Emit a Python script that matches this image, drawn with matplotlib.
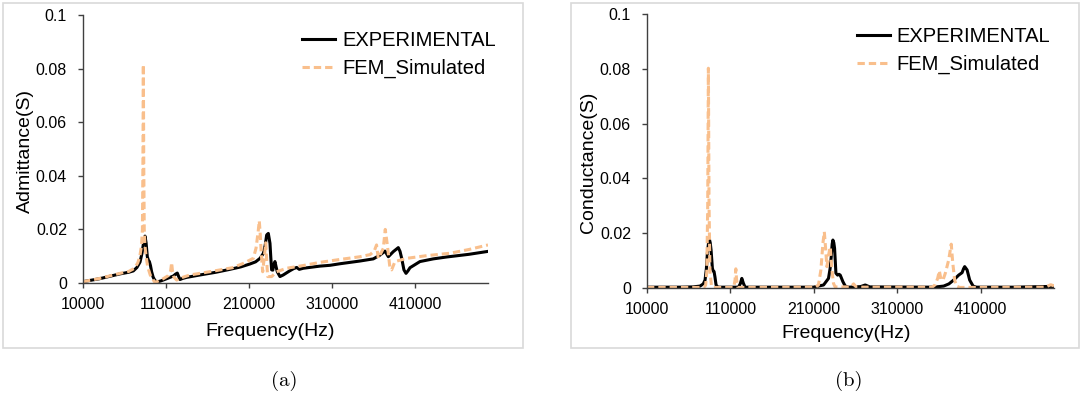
import numpy as np
import matplotlib
matplotlib.use('Agg')
import matplotlib.pyplot as plt
from matplotlib.patches import Rectangle

# (a) admittance, frequency in Hz
adm_exp_f = [10000, 30000, 54600, 65000, 70600, 75000, 78700, 81000, 83000, 84700, 86000, 87500,
             88800, 90000, 91300, 92700, 94500, 96700, 99500, 104000, 110800, 118800, 121500, 123600,
             125300, 126900, 130000, 134900, 151000, 170000, 187100, 200000, 211200, 218000, 223300,
             227200, 229500, 231300, 233300, 235300, 236300, 237300, 238700, 240000, 241300, 242700,
             244100, 247300, 251300, 259400, 264000, 267500, 270600, 275400, 295500, 307600, 320000,
             343700, 359800, 367800, 373900, 377900, 383900, 389900, 392000, 394000, 396700, 399200,
             401500, 404000, 416000, 432000, 448000, 475000, 498000]
adm_exp_y = [0.0005, 0.0016, 0.0034, 0.0040, 0.0045, 0.0058, 0.0078, 0.0110, 0.0150, 0.0175, 0.0150, 0.0098,
             0.0085, 0.0080, 0.0065, 0.0042, 0.0022, 0.0009, 0.0004, 0.0008, 0.0016, 0.0026, 0.0033, 0.0037,
             0.0024, 0.0013, 0.0017, 0.0021, 0.0030, 0.0040, 0.0051, 0.0060, 0.0071, 0.0079, 0.0092,
             0.0110, 0.0140, 0.0179, 0.0185, 0.0148, 0.0095, 0.0049, 0.0048, 0.0070, 0.0080, 0.0060,
             0.0042, 0.0024, 0.0030, 0.0046, 0.0054, 0.0058, 0.0051, 0.0055, 0.0063, 0.0066, 0.0072,
             0.0082, 0.0090, 0.0104, 0.0119, 0.0098, 0.0117, 0.0132, 0.0118, 0.0092, 0.0049, 0.0036,
             0.0045, 0.0057, 0.0080, 0.0090, 0.0097, 0.0107, 0.0118]

adm_fem_f = [10000, 30000, 54600, 65000, 72000, 76000, 78500, 80500, 81600, 82200, 82700, 83200, 83800,
             84600, 86000, 88000, 91000, 94700, 96500, 100000, 106700, 113000, 115600, 116800, 117800,
             119500, 122900, 128000, 138900, 151000, 170000, 190000, 203100, 215200, 218500, 221000,
             222400, 223600, 224800, 226500, 228500, 230200, 231200, 232500, 237300, 243300, 255400,
             275000, 295500, 320000, 343700, 356000, 361000, 363700, 365800, 368800, 371800, 374200,
             376700, 379900, 381900, 385900, 400000, 424000, 452200, 475000, 498000]
adm_fem_y = [0.0005, 0.0017, 0.0036, 0.0043, 0.0055, 0.0075, 0.0100, 0.0140, 0.0200, 0.0450, 0.0815, 0.0450, 0.0200,
             0.0140, 0.0100, 0.0060, 0.0030, 0.0011, 0.0003, 0.0006, 0.0016, 0.0028, 0.0045, 0.0076, 0.0045,
             0.0022, 0.0011, 0.0019, 0.0030, 0.0036, 0.0046, 0.0057, 0.0073, 0.0092, 0.0130, 0.0190,
             0.0232, 0.0180, 0.0110, 0.0042, 0.0098, 0.0150, 0.0090, 0.0024, 0.0024, 0.0042, 0.0055,
             0.0065, 0.0077, 0.0088, 0.0098, 0.0106, 0.0120, 0.0142, 0.0092, 0.0110, 0.0129, 0.0200,
             0.0142, 0.0055, 0.0049, 0.0080, 0.0092, 0.0102, 0.0111, 0.0125, 0.0142]

# (b) conductance, frequency in Hz
con_exp_f = [10000, 49600, 65000, 73600, 77500, 79600, 81200, 82400, 83800, 84800, 85800, 86800, 88400,
             89400, 90400, 91500, 92800, 95000, 119600, 121800, 123700, 125600, 127600, 209600, 221700,
             227600, 229500, 230900, 232000, 232900, 234000, 234900, 235800, 236500, 238500, 240200,
             241700, 244900, 247700, 252000, 266000, 271700, 277000, 353700, 365700, 372000, 377700,
             383700, 387800, 389500, 390900, 393800, 396900, 401000, 405000, 450000, 498000]
con_exp_y = [0.0003, 0.0003, 0.0004, 0.0007, 0.0015, 0.0029, 0.0070, 0.0127, 0.0165, 0.0178, 0.0165, 0.0139, 0.0072,
             0.0062, 0.0060, 0.0040, 0.0011, 0.0003, 0.0003, 0.0015, 0.0035, 0.0017, 0.0003, 0.0003, 0.0011,
             0.0035, 0.0070, 0.0114, 0.0160, 0.0175, 0.0165, 0.0145, 0.0095, 0.0054, 0.0047, 0.0050,
             0.0047, 0.0023, 0.0007, 0.0003, 0.0005, 0.0011, 0.0004, 0.0003, 0.0007, 0.0015, 0.0029,
             0.0047, 0.0056, 0.0070, 0.0078, 0.0066, 0.0029, 0.0007, 0.0003, 0.0003, 0.0006]

con_fem_f = [10000, 78000, 80300, 81700, 82800, 83600, 84400, 85500, 87200, 89000, 114000, 115600, 116500,
             117400, 119000, 212000, 215600, 218500, 220900, 222600, 224000, 225700, 227700, 229700,
             231700, 233600, 235500, 254000, 257700, 261000, 352000, 355500, 358500, 360500, 362600,
             365000, 367700, 371700, 374800, 376500, 378900, 381000, 385000, 488000, 494000, 498000]
con_fem_y = [0.0002, 0.0002, 0.0010, 0.0060, 0.0300, 0.0802, 0.0300, 0.0060, 0.0010, 0.0002, 0.0002, 0.0030, 0.0070,
             0.0030, 0.0002, 0.0003, 0.0011, 0.0066, 0.0163, 0.0205, 0.0150, 0.0078, 0.0120, 0.0150,
             0.0066, 0.0017, 0.0004, 0.0004, 0.0015, 0.0003, 0.0003, 0.0012, 0.0035, 0.0063, 0.0029,
             0.0030, 0.0054, 0.0102, 0.0160, 0.0095, 0.0029, 0.0007, 0.0002, 0.0003, 0.0012, 0.0008]

x_ticks = [10000, 110000, 210000, 310000, 410000]
y_ticks = [0, 0.02, 0.04, 0.06, 0.08, 0.1]
y_tick_labels = ['0', '0.02', '0.04', '0.06', '0.08', '0.1']
series_names = ['EXPERIMENTAL', 'FEM_Simulated']
y_titles = ['Admittance(S)', 'Conductance(S)']
captions = ['(a)', '(b)']

plt.rcParams['font.family'] = ['Liberation Sans', 'DejaVu Sans']

W, H = 1082, 405
fig = plt.figure(figsize=(W / 100, H / 100), dpi=100)


def fx(px):
    return px / W


def fy(py):
    return 1 - py / H


fem_color = '#F9BF8C'

# pixel layout of the two panels: axes box, frame, legend, titles
panels = [
    dict(ax=(83, 15, 488, 283), frame=(3, 3, 523, 348), leg=(302, 31), ylab=(25, 151),
         xlab=(270, 331), cap=(284, 381), exp=(adm_exp_f, adm_exp_y), fem=(adm_fem_f, adm_fem_y)),
    dict(ax=(647, 14, 1054, 288), frame=(571, 3, 1079, 348), leg=(857, 27), ylab=(588, 162),
         xlab=(846, 334), cap=(849, 381), exp=(con_exp_f, con_exp_y), fem=(con_fem_f, con_fem_y)),
]

for i, p in enumerate(panels):
    x0, y0, x1, y1 = p['frame']
    fig.patches.append(Rectangle((fx(x0), fy(y1)), fx(x1 - x0), (y1 - y0) / H,
                                 transform=fig.transFigure, fill=False,
                                 edgecolor='#D9D9D9', linewidth=1.2))
    l, t, r, b = p['ax']
    ax = fig.add_axes([fx(l), fy(b), fx(r - l), (b - t) / H])
    ax.plot(p['exp'][0], p['exp'][1], color='black', lw=2.2, label=series_names[0])
    ax.plot(p['fem'][0], p['fem'][1], color=fem_color, lw=2.2, dashes=(2.4, 1.3),
            label=series_names[1])
    ax.set_xlim(10000, 498000)
    ax.set_ylim(0, 0.1)
    ax.set_xticks(x_ticks)
    ax.set_xticklabels([str(v) for v in x_ticks])
    ax.set_yticks(y_ticks)
    ax.set_yticklabels(y_tick_labels)
    for s in ['top', 'right']:
        ax.spines[s].set_visible(False)
    for s in ['left', 'bottom']:
        ax.spines[s].set_color('#404040')
        ax.spines[s].set_linewidth(1.0)
    ax.tick_params(direction='out', length=3.6, width=1.0, color='#404040',
                   labelsize=11.5)
    ax.tick_params(axis='x', pad=6.5)
    ax.tick_params(axis='y', pad=8)
    ax.patch.set_alpha(0)

    lx, ly = p['leg']
    ax.legend(loc='upper left', bbox_to_anchor=(fx(lx), fy(ly)), bbox_transform=fig.transFigure,
              frameon=False, fontsize=14.5, borderpad=0, borderaxespad=0,
              handlelength=1.65, handletextpad=0.33, labelspacing=0.45)

    fig.text(fx(p['ylab'][0]), fy(p['ylab'][1]), y_titles[i], rotation=90,
             ha='center', va='center', fontsize=14)
    fig.text(fx(p['xlab'][0]), fy(p['xlab'][1]), 'Frequency(Hz)',
             ha='center', va='center', fontsize=14)
    fig.text(fx(p['cap'][0]), fy(p['cap'][1]), captions[i], family='cmr10',
             ha='center', va='center', fontsize=15)

fig.savefig('out.png', dpi=100)
